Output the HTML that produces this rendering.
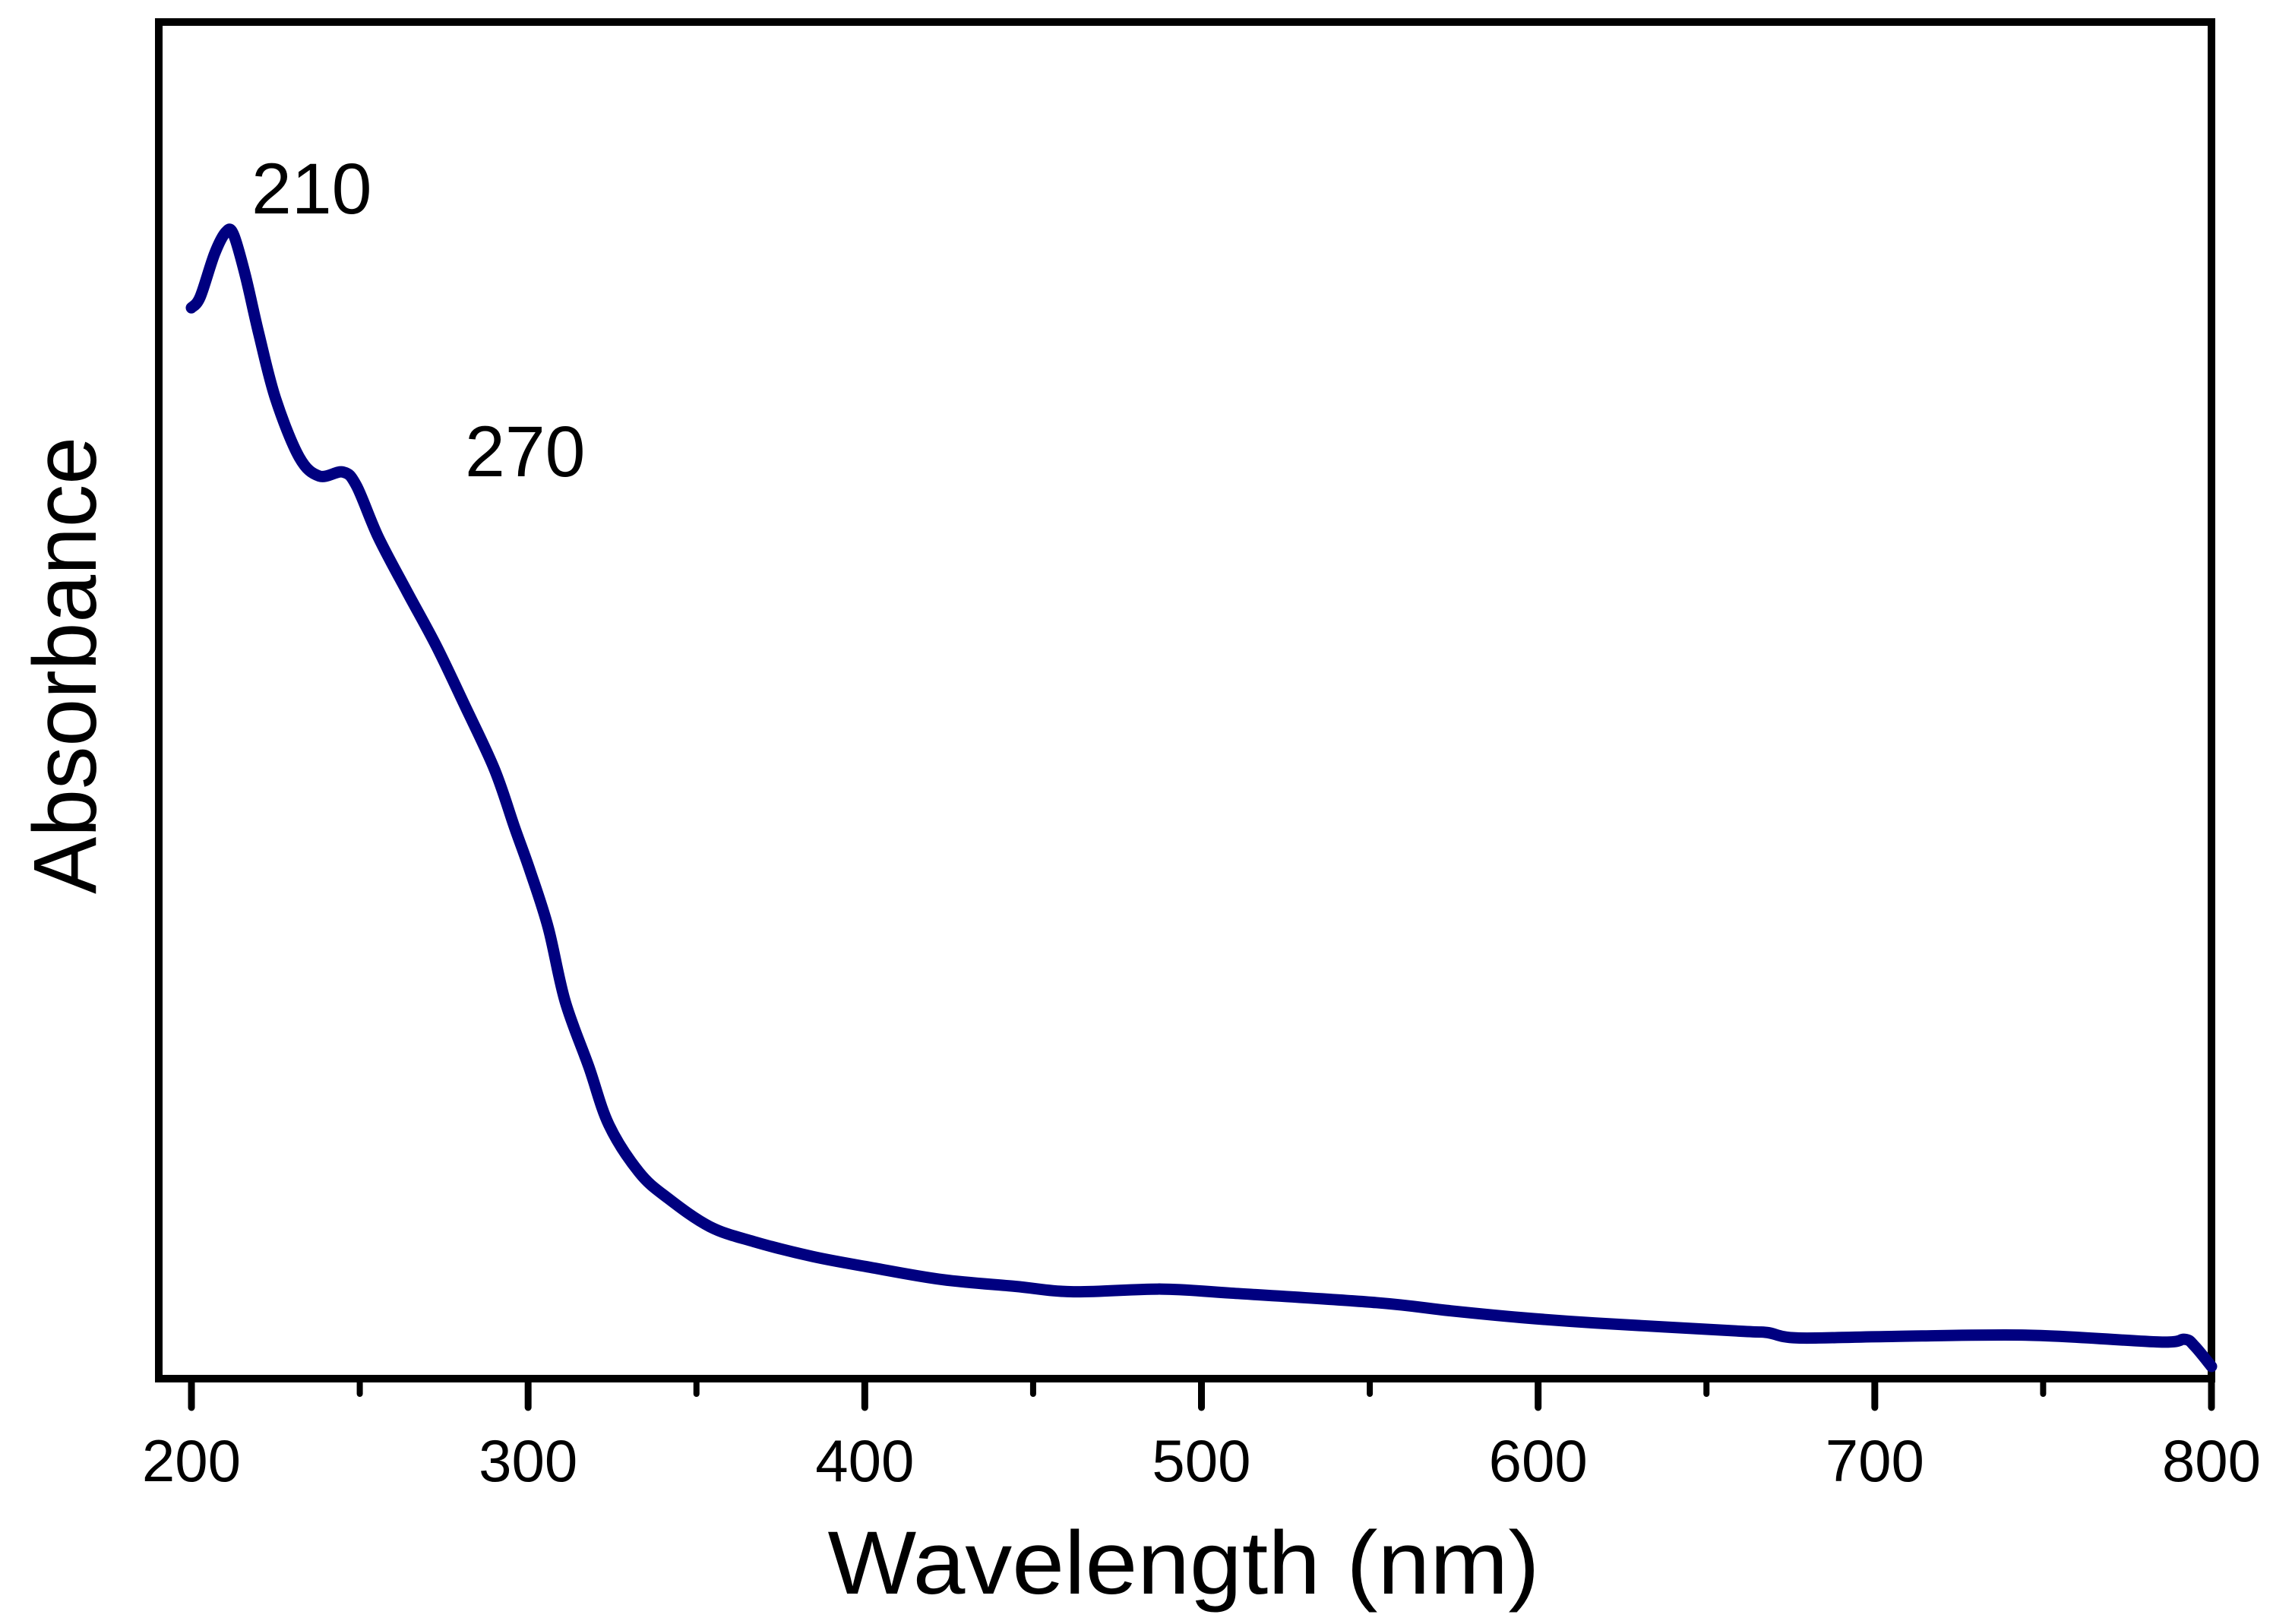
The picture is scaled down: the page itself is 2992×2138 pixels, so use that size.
<!DOCTYPE html>
<html><head><meta charset="utf-8"><style>
html,body{margin:0;padding:0;background:#fff;}
svg{display:block;font-family:"Liberation Sans",Arial,sans-serif;}
</style></head><body>
<svg id="chart" width="2992" height="2138" viewBox="0 0 2992 2138">
<rect x="209" y="29" width="2702" height="1786" fill="none" stroke="#000" stroke-width="10"/>
<g id="ticks"></g>
<g id="series"></g>
<text x="331" y="281" font-size="95">210</text>
<text x="612" y="627" font-size="95">270</text>
<text x="1558" y="2098" font-size="118" text-anchor="middle" textLength="937" lengthAdjust="spacingAndGlyphs">Wavelength (nm)</text>
<text transform="translate(126,876) rotate(-90)" font-size="118" text-anchor="middle" textLength="602" lengthAdjust="spacingAndGlyphs">Absorbance</text>
</svg>
<script>
const wavelengths=[200,202.6,206.9,210.3,212.5,216,220,225,232,238,245,249,255.5,264,272.7,281,290,296,300.6,306,311,318,324,333,341.5,354,367,384.5,401.7,423,444.7,462,488,509,552,574,595,617,660,668,677,703,746,784.5,792,795,800];
const absorbance=[0.789,0.797,0.829,0.845,0.843,0.813,0.770,0.722,0.679,0.665,0.668,0.658,0.620,0.580,0.540,0.497,0.449,0.406,0.374,0.332,0.278,0.230,0.187,0.152,0.133,0.112,0.101,0.090,0.082,0.073,0.068,0.064,0.066,0.063,0.056,0.050,0.045,0.041,0.035,0.034,0.030,0.031,0.032,0.027,0.029,0.024,0.009];
const majorTicks=[200,300,400,500,600,700,800];
const minorTicks=[250,350,450,550,650,750];
const NS="http://www.w3.org/2000/svg";
function xScale(v){return 252+(v-200)*(2911-252)/600;}
function yS(v){return 1815-v*935*1.911;}
const tg=document.getElementById('ticks');
majorTicks.forEach(t=>{
  const l=document.createElementNS(NS,'line');
  l.setAttribute('x1',xScale(t));l.setAttribute('x2',xScale(t));
  l.setAttribute('y1',1815);l.setAttribute('y2',1853);
  l.setAttribute('stroke','#000');l.setAttribute('stroke-width','9');l.setAttribute('stroke-linecap','round');
  
  
  tg.appendChild(l);
  const tx=document.createElementNS(NS,'text');
  tx.setAttribute('x',xScale(t));tx.setAttribute('y',1950);
  tx.setAttribute('font-size','78');tx.setAttribute('text-anchor','middle');
  tx.textContent=t;
  
  
  tg.appendChild(tx);
});
minorTicks.forEach(t=>{
  const l=document.createElementNS(NS,'line');
  l.setAttribute('x1',xScale(t));l.setAttribute('x2',xScale(t));
  l.setAttribute('y1',1815);l.setAttribute('y2',1835);
  l.setAttribute('stroke','#000');l.setAttribute('stroke-width','8');l.setAttribute('stroke-linecap','round');
  
  
  tg.appendChild(l);
});
const pts=wavelengths.map((w,i)=>[xScale(w),yS(absorbance[i])]);
let d='M'+pts[0][0]+','+pts[0][1];
for(let i=0;i<pts.length-1;i++){
  const p0=pts[Math.max(0,i-1)],p1=pts[i],p2=pts[i+1],p3=pts[Math.min(pts.length-1,i+2)];
  const c1=[p1[0]+(p2[0]-p0[0])/6,p1[1]+(p2[1]-p0[1])/6];
  const c2=[p2[0]-(p3[0]-p1[0])/6,p2[1]-(p3[1]-p1[1])/6];
  d+=' C'+c1[0]+','+c1[1]+' '+c2[0]+','+c2[1]+' '+p2[0]+','+p2[1];
}
const path=document.createElementNS(NS,'path');
path.setAttribute('d',d);path.setAttribute('fill','none');
path.setAttribute('stroke','#000080');path.setAttribute('stroke-width','15');
path.setAttribute('stroke-linecap','round');path.setAttribute('stroke-linejoin','round');


document.getElementById('series').appendChild(path);
</script>
</body></html>
